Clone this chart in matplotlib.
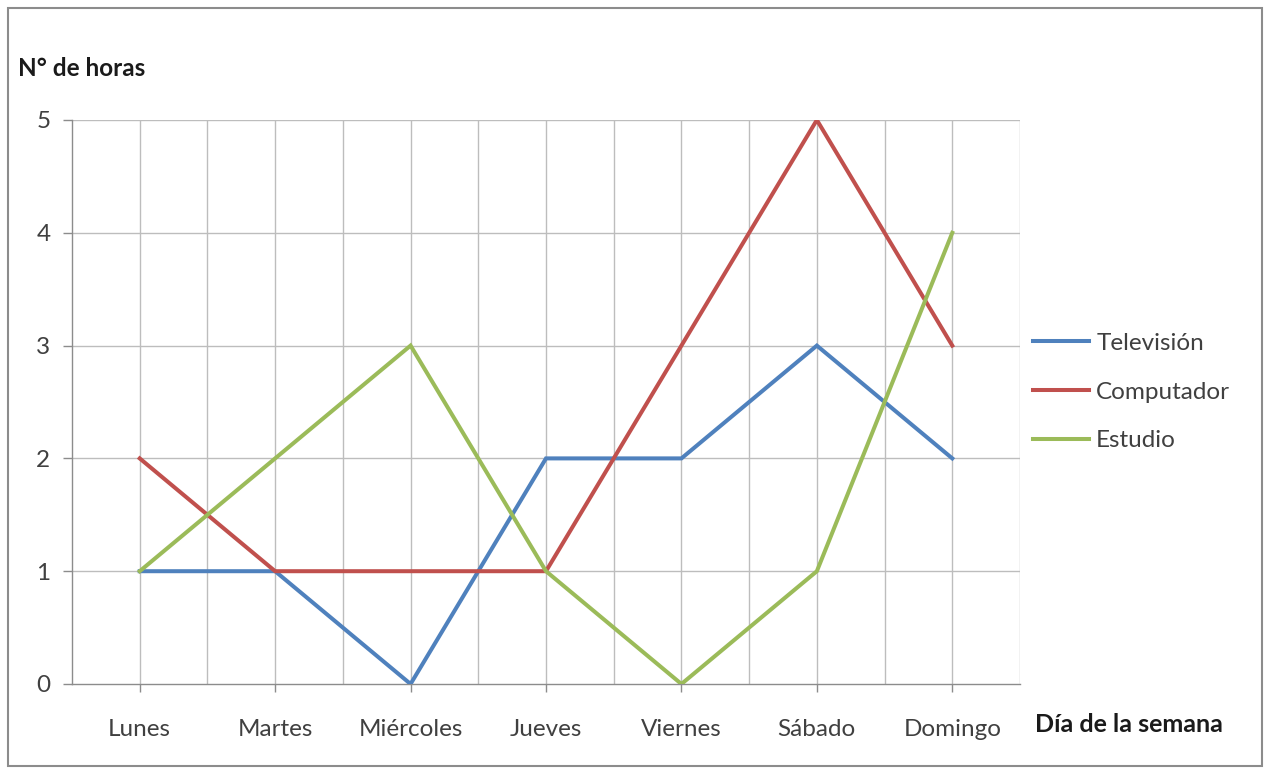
import matplotlib
matplotlib.use("Agg")
import matplotlib.pyplot as plt
from matplotlib.patches import Rectangle
import numpy as np

days = ["Lunes", "Martes", "Miércoles", "Jueves", "Viernes", "Sábado", "Domingo"]
television = [1, 1, 0, 2, 2, 3, 2]
computador = [2, 1, 1, 1, 3, 5, 3]
estudio = [1, 2, 3, 1, 0, 1, 4]
series_names = ["Televisión", "Computador", "Estudio"]
series_colors = ["#4F81BD", "#C0504D", "#9BBB59"]

plt.rcParams["font.family"] = ["Lato", "DejaVu Sans"]

fig = plt.figure(figsize=(12.65, 7.7), dpi=100)
W, H = 1265, 770
ax = fig.add_axes([72 / W, 1 - 684 / H, (1020 - 72) / W, (684 - 120) / H])

x = np.arange(len(days))
for vals, name, col in zip([television, computador, estudio], series_names, series_colors):
    ax.plot(x, vals, color=col, lw=2.9, label=name, solid_joinstyle="miter", zorder=3)

ax.set_xlim(-0.5, len(days) - 0.5)
ax.set_ylim(0, 5)

grid_col = "#BDBDBD"
axis_col = "#8C8C8C"
for gx in np.arange(0, len(days), 0.5):
    ax.axvline(gx, color=grid_col, lw=1.0, zorder=1)
for gy in range(1, 6):
    ax.axhline(gy, color=grid_col, lw=1.0, zorder=1)

for s in ["top", "right"]:
    ax.spines[s].set_visible(False)
for s in ["left", "bottom"]:
    ax.spines[s].set_color(axis_col)
    ax.spines[s].set_linewidth(1.0)

fs = 17.5
ax.set_xticks(x)
ax.set_xticklabels(days, fontsize=fs, color="#404040")
ax.set_yticks(range(0, 6))
ax.set_yticklabels([str(v) for v in range(0, 6)], fontsize=fs, color="#404040")
ax.tick_params(axis="x", length=6, width=1.0, color=axis_col, pad=19)
ax.tick_params(axis="y", length=6.5, width=1.0, color=axis_col, pad=9)

fig.text(18 / W, 1 - 68 / H, "N° de horas", fontsize=17.5, fontweight="bold",
         color="#1a1a1a", va="center", ha="left")
fig.text(1035 / W, 1 - 725 / H, "Día de la semana", fontsize=18, fontweight="bold",
         color="#1a1a1a", va="center", ha="left")

leg = ax.legend(loc="center left", bbox_to_anchor=((1033 - 72) / 948, (684 - 392) / 564),
                frameon=False, fontsize=fs, handlelength=2.3, handletextpad=0.3,
                labelspacing=1.15, borderaxespad=0, borderpad=0)
for t in leg.get_texts():
    t.set_color("#404040")

fig.patches.append(Rectangle((8 / W, 4 / H), (1262 - 8) / W, (762 - 4) / H,
                             transform=fig.transFigure, fill=False,
                             edgecolor="#8C8C8C", lw=1.5))

fig.savefig("out.png", dpi=100)
